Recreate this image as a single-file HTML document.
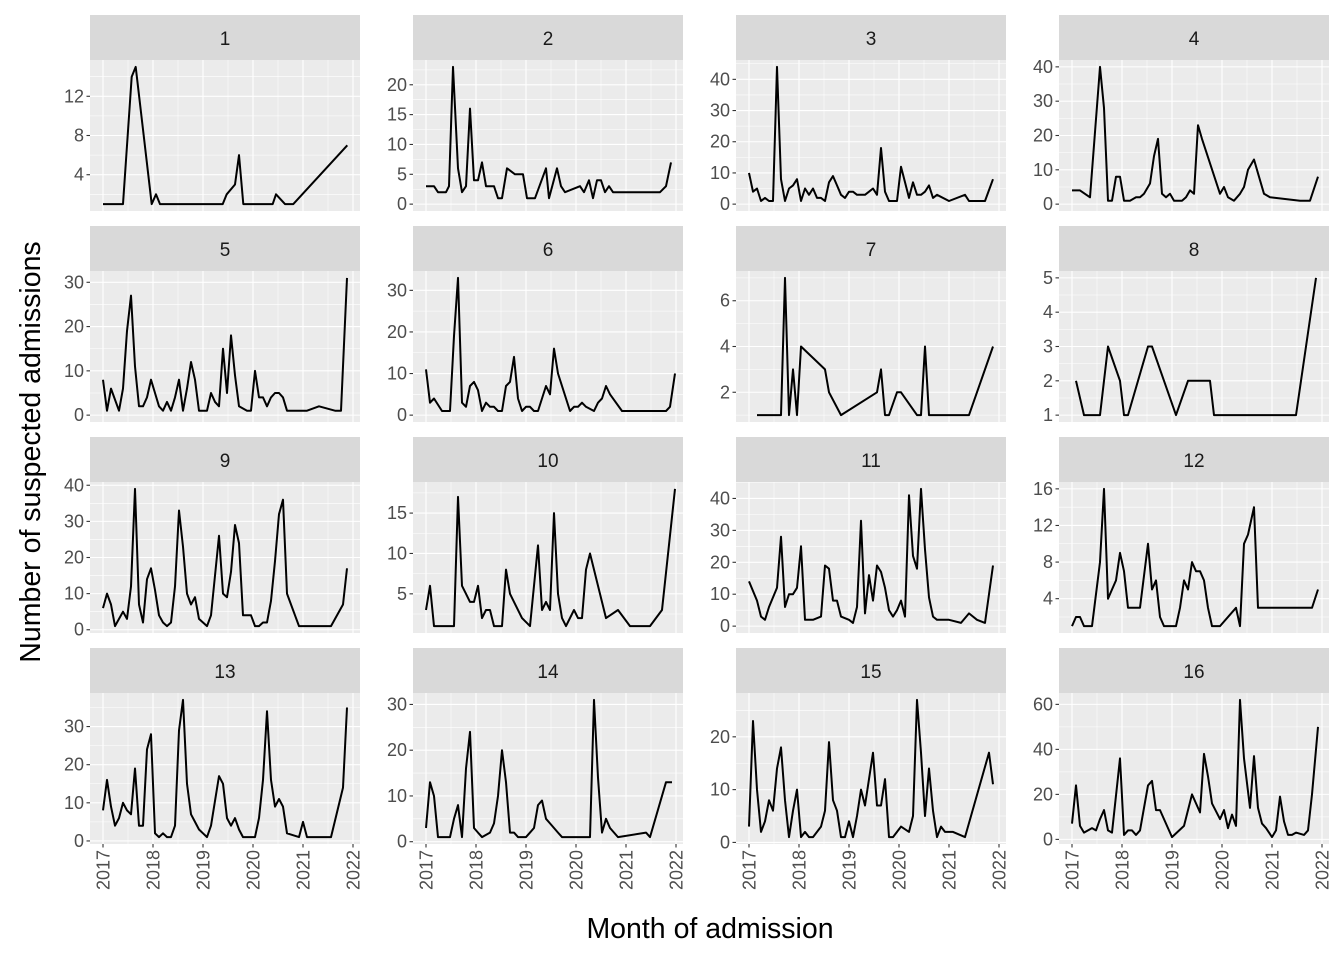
<!DOCTYPE html>
<html><head><meta charset="utf-8"><style>
html,body{margin:0;padding:0;background:#fff;}
svg{display:block;font-family:"Liberation Sans",Arial,sans-serif;}
</style></head><body>
<svg id="s" width="1344" height="960" xmlns="http://www.w3.org/2000/svg">
<text x="710" y="938" font-size="28.5" text-anchor="middle" fill="#000">Month of admission</text>
<text transform="translate(40,452) rotate(-90)" font-size="28.5" text-anchor="middle" fill="#000">Number of suspected admissions</text>
</svg>
<script>
var P=[
{t:"1",r:[1,15],yt:["4","8","12"],d:[[103,1],[123,1],[131.7,14],[135.7,15],[151.7,1],[156,2],[160,1],[222.7,1],[226.7,2],[235,3],[239,6],[243.3,1],[272.7,1],[276,2],[285,1],[293.3,1],[347.3,7]]},
{t:"2",r:[0,23],yt:["0","5","10","15","20"],d:[[426,3],[434,3],[438,2],[446,2],[449,3],[453,23],[458,6],[462,2],[466,3],[470,16],[474,4],[478,4],[482,7],[486,3],[494,3],[498,1],[502,1],[507,6],[515,5],[523,5],[527,1],[535,1],[546,6],[549,1],[557,6],[561,3],[565,2],[580,3],[584,2],[589,4],[593,1],[597,4],[601,4],[605,2],[609,3],[613,2],[660,2],[666,3],[671,7]]},
{t:"3",r:[0,44],yt:["0","10","20","30","40"],d:[[749,10],[753,4],[757,5],[761,1],[765,2],[769,1],[773,1],[777,44],[781,8],[785,1],[789,5],[793,6],[797,8],[801,1],[805,5],[809,3],[813,5],[817,2],[821,2],[825,1],[829,7],[833,9],[837,6],[841,3],[845,2],[849,4],[853,4],[857,3],[861,3],[865,3],[869,4],[873,5],[877,3],[881,18],[885,4],[889,1],[893,1],[897,1],[901,12],[905,7],[909,2],[913,7],[917,3],[921,3],[925,4],[929,6],[933,2],[937,3],[949,1],[965,3],[969,1],[985,1],[993,8]]},
{t:"4",r:[0,40],yt:["0","10","20","30","40"],d:[[1072,4],[1080,4],[1090,2],[1100,40],[1104,28],[1108,1],[1112,1],[1116,8],[1120,8],[1124,1],[1130,1],[1136,2],[1140,2],[1144,3],[1150,6],[1154,14],[1158,19],[1162,3],[1166,2],[1170,3],[1174,1],[1182,1],[1186,2],[1190,4],[1194,3],[1198,23],[1202,19],[1220,3],[1224,5],[1228,2],[1234,1],[1240,3],[1244,5],[1248,10],[1254,13],[1258,9],[1264,3],[1270,2],[1300,1],[1310,1],[1318,8]]},
{t:"5",r:[0,31],yt:["0","10","20","30"],d:[[103,8],[107,1],[111,6],[119,1],[123,6],[127,19],[131,27],[135,11],[139,2],[143,2],[147,4],[151,8],[155,5],[159,2],[163,1],[167,3],[171,1],[175,4],[179,8],[183,1],[187,6],[191,12],[195,8],[199,1],[207,1],[211,5],[215,3],[219,2],[223,15],[227,5],[231,18],[235,9],[239,2],[247,1],[251,1],[255,10],[259,4],[263,4],[267,2],[271,4],[275,5],[279,5],[283,4],[287,1],[307,1],[319,2],[335,1],[341,1],[347,31]]},
{t:"6",r:[0,33],yt:["0","10","20","30"],d:[[426,11],[430,3],[434,4],[442,1],[450,1],[454,19],[458,33],[462,3],[466,2],[470,7],[474,8],[478,6],[482,1],[486,3],[490,2],[494,2],[498,1],[502,1],[506,7],[510,8],[514,14],[518,4],[522,1],[526,2],[530,2],[534,1],[538,1],[546,7],[550,5],[554,16],[558,10],[570,1],[574,2],[578,2],[582,3],[586,2],[594,1],[598,3],[602,4],[606,7],[610,5],[622,1],[666,1],[670,2],[675,10]]},
{t:"7",r:[1,7],yt:["2","4","6"],d:[[757,1],[769,1],[781,1],[785,7],[789,1],[793,3],[797,1],[801,4],[825,3],[829,2],[841,1],[877,2],[881,3],[885,1],[889,1],[897,2],[901,2],[917,1],[921,1],[925,4],[929,1],[969,1],[993,4]]},
{t:"8",r:[1,5],yt:["1","2","3","4","5"],d:[[1076,2],[1084,1],[1092,1],[1100,1],[1108,3],[1120,2],[1124,1],[1128,1],[1148,3],[1152,3],[1176,1],[1188,2],[1196,2],[1204,2],[1210,2],[1214,1],[1296,1],[1316,5]]},
{t:"9",r:[1,39],yt:["0","10","20","30","40"],d:[[103,6],[107,10],[111,7],[115,1],[119,3],[123,5],[127,3],[131,12],[135,39],[139,7],[143,2],[147,14],[151,17],[155,11],[159,4],[163,2],[167,1],[171,2],[175,12],[179,33],[183,23],[187,10],[191,7],[195,9],[199,3],[203,2],[207,1],[211,4],[219,26],[223,10],[227,9],[231,16],[235,29],[239,24],[243,4],[247,4],[251,4],[255,1],[259,1],[263,2],[267,2],[271,8],[275,19],[279,32],[283,36],[287,10],[291,7],[295,4],[299,1],[331,1],[343,7],[347,17]]},
{t:"10",r:[1,18],yt:["5","10","15"],d:[[426,3],[430,6],[434,1],[454,1],[458,17],[462,6],[466,5],[470,4],[474,4],[478,6],[482,2],[486,3],[490,3],[494,1],[502,1],[506,8],[510,5],[514,4],[522,2],[530,1],[538,11],[542,3],[546,4],[550,3],[554,15],[558,5],[562,2],[566,1],[574,3],[578,2],[582,2],[586,8],[590,10],[594,8],[606,2],[618,3],[630,1],[650,1],[662,3],[675,18]]},
{t:"11",r:[0,43],yt:["0","10","20","30","40"],d:[[749,14],[757,8],[761,3],[765,2],[769,6],[777,12],[781,28],[785,6],[789,10],[793,10],[797,12],[801,25],[805,2],[809,2],[813,2],[821,3],[825,19],[829,18],[833,8],[837,8],[841,3],[849,2],[853,1],[857,6],[861,33],[865,4],[869,16],[873,8],[877,19],[881,17],[885,12],[889,5],[893,3],[897,5],[901,8],[905,3],[909,41],[913,22],[917,18],[921,43],[925,24],[929,9],[933,3],[937,2],[941,2],[949,2],[961,1],[969,4],[977,2],[985,1],[993,19]]},
{t:"12",r:[1,16],yt:["4","8","12","16"],d:[[1072,1],[1076,2],[1080,2],[1084,1],[1092,1],[1100,8],[1104,16],[1108,4],[1112,5],[1116,6],[1120,9],[1124,7],[1128,3],[1140,3],[1148,10],[1152,5],[1156,6],[1160,2],[1164,1],[1176,1],[1180,3],[1184,6],[1188,5],[1192,8],[1196,7],[1200,7],[1204,6],[1208,3],[1212,1],[1220,1],[1236,3],[1240,1],[1244,10],[1248,11],[1254,14],[1258,3],[1312,3],[1318,5]]},
{t:"13",r:[1,37],yt:["0","10","20","30"],d:[[103,8],[107,16],[111,9],[115,4],[119,6],[123,10],[127,8],[131,7],[135,19],[139,4],[143,4],[147,24],[151,28],[155,2],[159,1],[163,2],[167,1],[171,1],[175,4],[179,29],[183,37],[187,15],[191,7],[195,5],[199,3],[203,2],[207,1],[211,4],[219,17],[223,15],[227,6],[231,4],[235,6],[239,3],[243,1],[255,1],[259,6],[263,16],[267,34],[271,16],[275,9],[279,11],[283,9],[287,2],[299,1],[303,5],[307,1],[331,1],[343,14],[347,35]]},
{t:"14",r:[1,31],yt:["0","10","20","30"],d:[[426,3],[430,13],[434,10],[438,1],[450,1],[454,5],[458,8],[462,1],[466,16],[470,24],[474,3],[478,2],[482,1],[490,2],[494,4],[498,10],[502,20],[506,13],[510,2],[514,2],[518,1],[526,1],[530,2],[534,3],[538,8],[542,9],[546,5],[550,4],[554,3],[558,2],[562,1],[590,1],[594,31],[598,14],[602,2],[606,5],[610,3],[618,1],[646,2],[650,1],[666,13],[672,13]]},
{t:"15",r:[1,27],yt:["0","10","20"],d:[[749,3],[753,23],[757,10],[761,2],[765,4],[769,8],[773,6],[777,14],[781,18],[785,8],[789,1],[793,6],[797,10],[801,1],[805,2],[809,1],[813,1],[821,3],[825,6],[829,19],[833,8],[837,6],[841,1],[845,1],[849,4],[853,1],[857,5],[861,10],[865,7],[873,17],[877,7],[881,7],[885,12],[889,1],[893,1],[897,2],[901,3],[909,2],[913,5],[917,27],[921,17],[925,5],[929,14],[933,6],[937,1],[941,3],[945,2],[953,2],[965,1],[989,17],[993,11]]},
{t:"16",r:[1,62],yt:["0","20","40","60"],d:[[1072,7],[1076,24],[1080,6],[1084,3],[1092,5],[1096,4],[1100,9],[1104,13],[1108,4],[1112,3],[1120,36],[1124,2],[1128,4],[1132,4],[1136,2],[1140,4],[1148,24],[1152,26],[1156,13],[1160,13],[1172,1],[1184,6],[1192,20],[1200,12],[1204,38],[1208,28],[1212,16],[1220,9],[1224,13],[1228,5],[1232,11],[1236,6],[1240,62],[1244,36],[1250,14],[1254,37],[1258,14],[1262,7],[1266,5],[1272,1],[1276,4],[1280,19],[1284,8],[1288,2],[1292,2],[1296,3],[1304,2],[1308,4],[1312,20],[1318,50]]}
];
var XL=["2017","2018","2019","2020","2021","2022"];
var s=document.getElementById('s'),NS="http://www.w3.org/2000/svg";
function el(n,a,txt){var e=document.createElementNS(NS,n);for(var k in a)e.setAttribute(k,a[k]);if(txt!=null)e.textContent=txt;s.appendChild(e);return e;}
var L=[90,413,736,1059],W=270,H=151;
P.forEach(function(p,i){
 var c=i%4,r=Math.floor(i/4),x0=L[c],st=15+r*211,T=st+45,B=T+H;
 el('rect',{x:x0,y:st,width:W,height:45,fill:'#d9d9d9'});
 el('text',{x:x0+W/2,y:st+30,'font-size':19,'text-anchor':'middle',fill:'#1a1a1a'},p.t);
 el('rect',{x:x0,y:T,width:W,height:H,fill:'#ebebeb'});
 var lo=p.r[0],hi=p.r[1],rg=hi-lo,pd=rg*0.05;
 function Y(v){return B-(v-lo+pd)/(rg*1.1)*H;}
 var yt=p.yt.map(Number),st2=yt.length>1?yt[1]-yt[0]:1;
 for(var m=yt[0]-st2/2;m<=hi+pd+st2;m+=st2){var yy=Y(m);if(yy>T&&yy<B)el('line',{x1:x0,x2:x0+W,y1:yy,y2:yy,stroke:'#fff','stroke-width':0.55});}
 var c17=x0+13;
 for(var k=-0.5;k<=5.5;k+=1){var xx=c17+k*50;if(xx>x0&&xx<x0+W)el('line',{x1:xx,x2:xx,y1:T,y2:B,stroke:'#fff','stroke-width':0.55});}
 yt.forEach(function(v,j){var yy=Y(v);el('line',{x1:x0,x2:x0+W,y1:yy,y2:yy,stroke:'#fff','stroke-width':1.1});
  el('line',{x1:x0-3.5,x2:x0,y1:yy,y2:yy,stroke:'#333','stroke-width':1.1});
  el('text',{x:x0-6,y:yy+6,'font-size':18,'text-anchor':'end',fill:'#4d4d4d'},p.yt[j]);});
 for(var k=0;k<=5;k++){var xx=c17+k*50;el('line',{x1:xx,x2:xx,y1:T,y2:B,stroke:'#fff','stroke-width':1.1});
  if(r==3){el('line',{x1:xx,x2:xx,y1:B,y2:B+3.5,stroke:'#333','stroke-width':1.1});
  el('text',{transform:'translate('+(xx+6.5)+','+(B+6)+') rotate(-90)','font-size':18,'text-anchor':'end',fill:'#4d4d4d'},XL[k]);}}
 el('polyline',{points:p.d.map(function(q){return q[0]+','+Y(q[1]).toFixed(1);}).join(' '),fill:'none',stroke:'#000','stroke-width':2,'stroke-linejoin':'round'});
});
</script>
</body></html>
